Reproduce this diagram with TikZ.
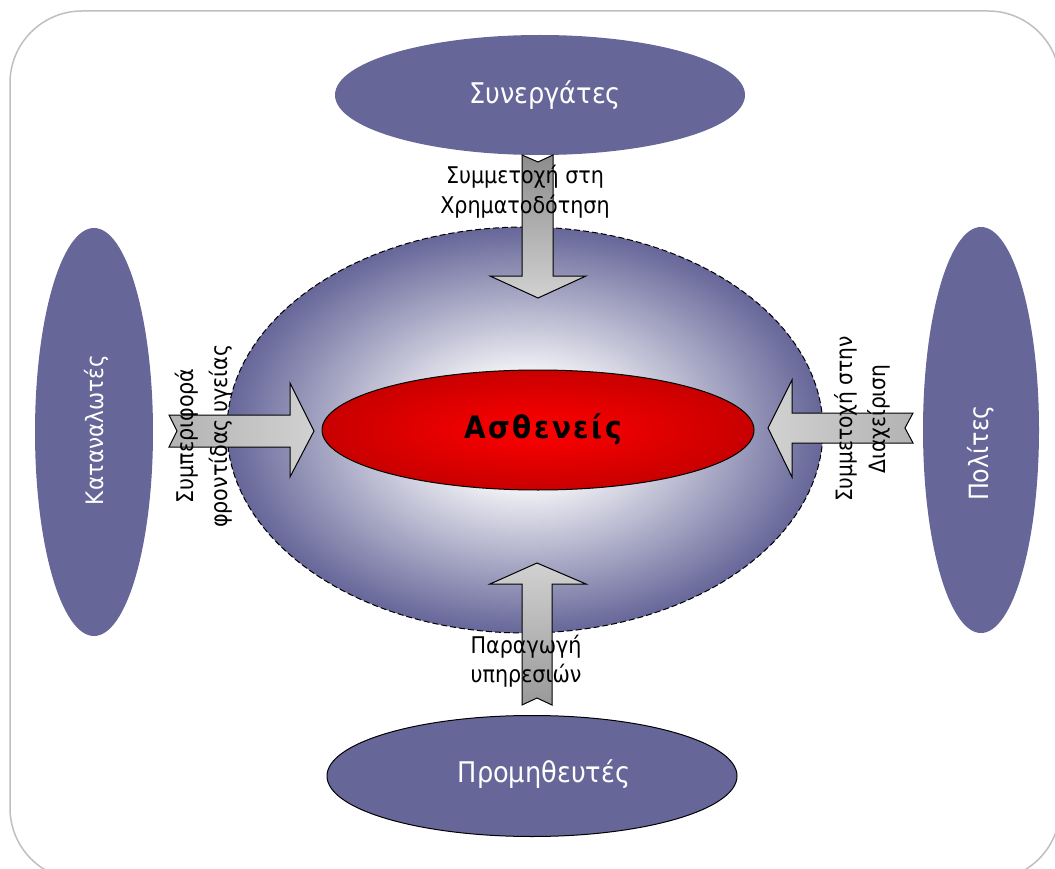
\documentclass[tikz,border=0pt]{standalone}
\usepackage{fontspec}
\setmainfont{DejaVu Sans Condensed}
\usetikzlibrary{shapes.geometric}
\definecolor{pblue}{HTML}{666699}
\definecolor{redout}{HTML}{C80000}
\pgfdeclareradialshading{glow}{\pgfpoint{0bp}{0bp}}{color(0bp)=(white); color(7bp)=(white!92!pblue); color(25bp)=(pblue); color(50bp)=(pblue)}
\begin{document}
\begin{tikzpicture}[x=1pt,y=-1pt,
  party/.style={ellipse, fill=pblue, inner sep=0pt},
  partytext/.style={text=white, inner sep=0pt},
  bigfont/.style={font=\fontsize{28.5}{30}\selectfont},
  sidefont/.style={font=\fontsize{24}{26}\selectfont},
  lbl/.style={align=center, inner sep=0pt},
  blockarrow/.style={draw=black, line width=1pt, line join=miter},
]
\useasboundingbox (0,0) rectangle (1055,869);
\begin{scope}
  \clip (0,0) rectangle (1055,869);
  \draw[draw=black!25, line width=1.5pt, rounded corners=72pt] (10,11) rectangle (1060,880);
\end{scope}

% central field
\node[ellipse, draw=black, dash pattern=on 6pt off 3pt, line width=1pt, shade, shading=glow,
      minimum width=596pt, minimum height=406pt, inner sep=0pt] (pat) at (525,430) {};

% outer parties
\node[party, minimum width=410pt, minimum height=120pt] (syn) at (540,95) {};
\node[partytext, bigfont] (syntext) at (545,95) {Συνεργάτες};
\node[party, draw=black, line width=1pt, minimum width=410pt, minimum height=121pt] (prom) at (532,776) {};
\node[partytext, bigfont] (promtext) at (544,774) {Προμηθευτές};
\node[party, rotate=90, minimum width=408pt, minimum height=118pt] (kat) at (94,432) {};
\node[partytext, sidefont, rotate=90] (kattext) at (96,430) {Καταναλωτές};
\node[party, rotate=90, minimum width=406pt, minimum height=116pt] (pol) at (981,430) {};
\node[partytext, font=\fontsize{26.5}{28}\selectfont, rotate=90] (poltext) at (981,453) {Πολίτες};

% patients
\node[ellipse, draw=black, line width=1pt, inner color=red, outer color=redout,
      minimum width=432pt, minimum height=120pt, inner sep=0pt,
      font=\bfseries\fontsize{31}{32}\selectfont\addfontfeature{LetterSpace=8}] (ast) at (538,430) {};
\node[inner sep=0pt, font=\bfseries\fontsize{31}{32}\selectfont\addfontfeature{LetterSpace=8}] (asttext) at (543,429) {Ασθενείς};

% block arrows
\draw[blockarrow, top color=black!45, bottom color=black!18]
  (522,155) -- (538,162) -- (553,155) -- (553,276) -- (586,276) -- (538,298) -- (490,276) -- (522,276) -- cycle;
\draw[blockarrow, bottom color=black!40, top color=black!18]
  (522,705) -- (537,698) -- (552,705) -- (552,584) -- (586,584) -- (537,563) -- (490,584) -- (522,584) -- cycle;
\draw[blockarrow, left color=black!30, right color=black!18]
  (169,415) -- (290,415) -- (290,383) -- (314,431) -- (290,477) -- (290,447) -- (169,447) -- (177,431) -- cycle;
\draw[blockarrow, right color=black!30, left color=black!18]
  (913,413) -- (792,413) -- (792,380) -- (768,428) -- (792,477) -- (792,443) -- (913,443) -- (905,428) -- cycle;

% arrow labels
\node[lbl, font=\fontsize{23}{30}\selectfont] (tl) at (525,192) {Συμμετοχή στη\\Χρηματοδότηση};
\node[lbl, font=\fontsize{23}{29}\selectfont] (bl) at (526,661) {Παραγωγή\\υπηρεσιών};
\node[lbl, rotate=90, font=\fontsize{23}{34}\selectfont] (ll) at (204,436) {Συμπεριφορά\\φροντίδας υγείας};
\node[lbl, rotate=90, font=\fontsize{22.5}{33}\selectfont] (rl) at (862,419) {Συμμετοχή στην\\Διαχείριση};
\end{tikzpicture}
\end{document}
